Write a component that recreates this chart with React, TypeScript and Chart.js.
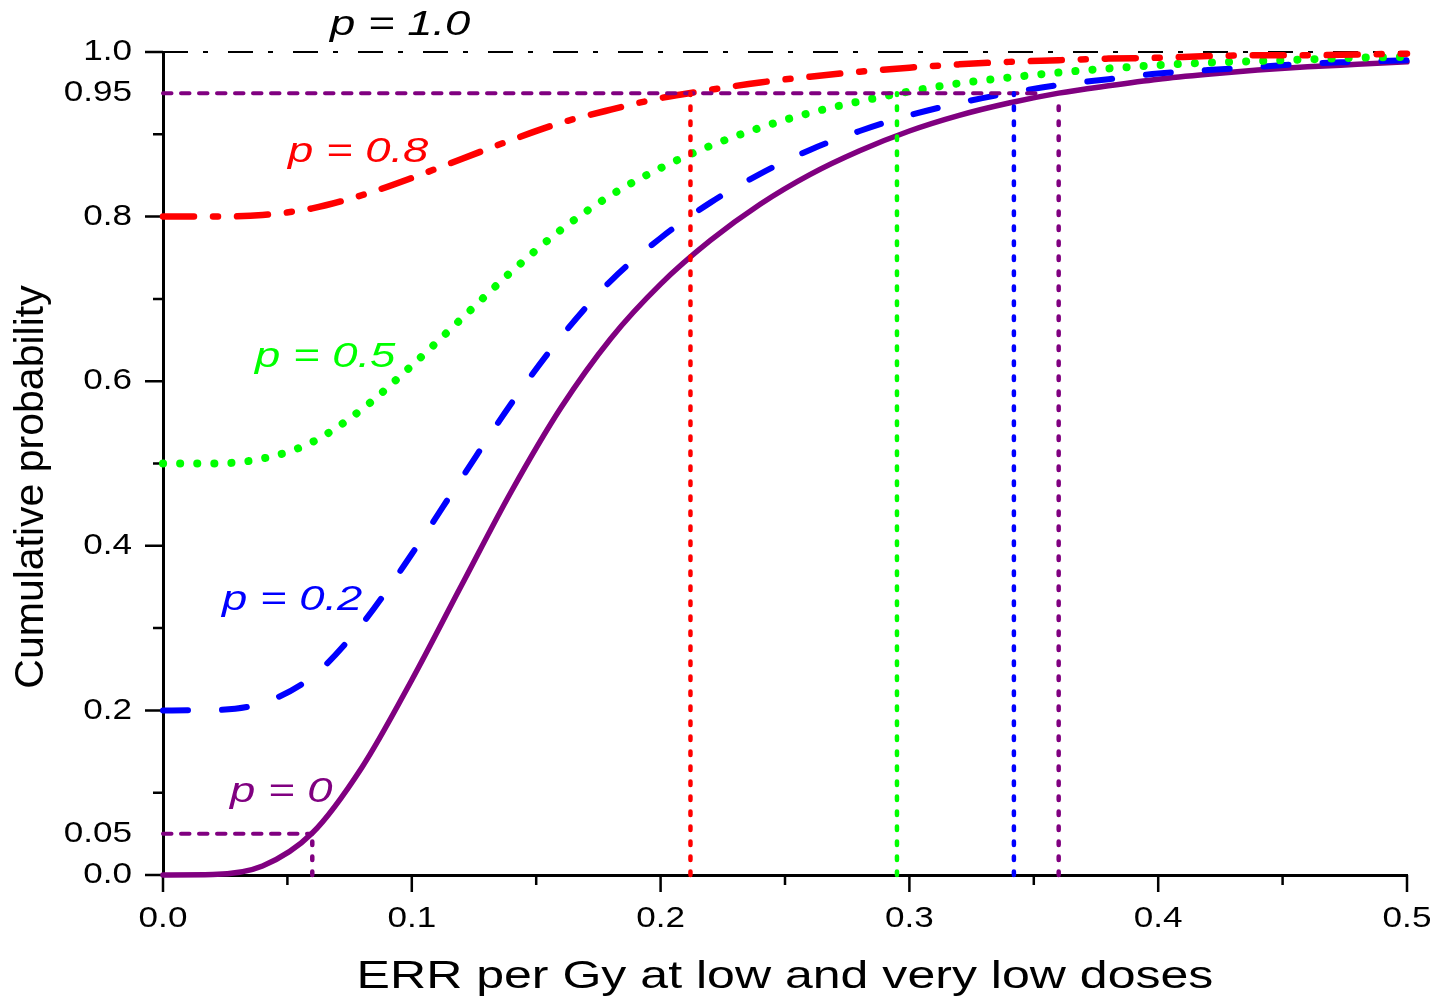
import React, { useEffect, useRef } from "react";
import { Chart, registerables } from "chart.js";

Chart.register(...registerables);

// ---- data ----
const xGrid = [0, 0.02, 0.04, 0.06, 0.08, 0.1, 0.12, 0.14, 0.16, 0.18, 0.2, 0.22, 0.24, 0.26, 0.28, 0.3, 0.32, 0.34, 0.36, 0.38, 0.4, 0.42, 0.44, 0.46, 0.48, 0.5];
const curveP0 = [0, 0.0005, 0.011, 0.051, 0.131, 0.237, 0.352, 0.466, 0.568, 0.652, 0.718, 0.771, 0.815, 0.851, 0.88, 0.904, 0.923, 0.938, 0.95, 0.959, 0.967, 0.973, 0.978, 0.982, 0.985, 0.988];
const curveP02 = [0.2, 0.2004, 0.209, 0.241, 0.305, 0.39, 0.482, 0.573, 0.654, 0.722, 0.774, 0.817, 0.852, 0.881, 0.904, 0.923, 0.938, 0.95, 0.96, 0.967, 0.974, 0.978, 0.982, 0.986, 0.988, 0.99];
const curveP05 = [0.5, 0.5, 0.506, 0.526, 0.566, 0.619, 0.676, 0.733, 0.784, 0.826, 0.859, 0.886, 0.908, 0.926, 0.94, 0.952, 0.962, 0.969, 0.975, 0.98, 0.984, 0.987, 0.989, 0.991, 0.993, 0.994];
const curveP08 = [0.8, 0.8, 0.802, 0.81, 0.826, 0.847, 0.87, 0.893, 0.914, 0.93, 0.944, 0.954, 0.963, 0.97, 0.976, 0.981, 0.985, 0.988, 0.99, 0.992, 0.993, 0.995, 0.996, 0.996, 0.997, 0.998];
const lineP10X = [0, 0.5];
const lineP10Y = [1.0, 1.0];

// 95% crossing points (red, green, blue, purple)
const crossX = [0.212, 0.295, 0.342, 0.36];
const crossTop = [0.95, 0.95, 0.95, 0.94];
const level95 = 0.95;
const level95End = 0.352;
const level05 = 0.05;
const level05X = 0.06;

const xMajorTicks = [0, 0.1, 0.2, 0.3, 0.4, 0.5];
const xMinorTicks = [0.05, 0.15, 0.25, 0.35, 0.45];
const xTickLabels = ["0.0", "0.1", "0.2", "0.3", "0.4", "0.5"];
const yMajorTicks = [0, 0.2, 0.4, 0.6, 0.8, 1.0];
const yMinorTicks = [0.1, 0.3, 0.5, 0.7, 0.9];
const yLabelValues = [0, 0.05, 0.2, 0.4, 0.6, 0.8, 0.95, 1.0];
const yTickLabels = ["0.0", "0.05", "0.2", "0.4", "0.6", "0.8", "0.95", "1.0"];

const annotations = [
  { text: "p = 1.0", color: "#000000", x: 330, y: 35 },
  { text: "p = 0.8", color: "#ff0000", x: 288, y: 162 },
  { text: "p = 0.5", color: "#00ff00", x: 255, y: 367 },
  { text: "p = 0.2", color: "#0000ff", x: 222, y: 610 },
  { text: "p = 0", color: "#800080", x: 230, y: 802 },
];

const FONT = '"Liberation Sans", Arial, sans-serif';

function drawText(ctx: CanvasRenderingContext2D, text: string, x: number, y: number, font: string, sx: number, align: CanvasTextAlign, baseline: CanvasTextBaseline, color: string) {
  ctx.save();
  ctx.translate(x, y);
  ctx.scale(sx, 1);
  ctx.font = font;
  ctx.textAlign = align;
  ctx.textBaseline = baseline;
  ctx.fillStyle = color;
  ctx.fillText(text, 0, 0);
  ctx.restore();
}

const axisPlugin = {
  id: "axisDecor",
  beforeDatasetsDraw(chart: any) {
    const ctx = chart.ctx as CanvasRenderingContext2D;
    const xs = chart.scales.x;
    const ys = chart.scales.y;
    const left = chart.chartArea.left;
    const bottom = chart.chartArea.bottom;
    ctx.save();
    ctx.strokeStyle = "#000";
    ctx.lineWidth = 2.5;
    ctx.lineCap = "butt";
    ctx.beginPath();
    yMajorTicks.forEach((v) => {
      const py = ys.getPixelForValue(v);
      ctx.moveTo(left - 18, py);
      ctx.lineTo(left, py);
    });
    yMinorTicks.forEach((v) => {
      const py = ys.getPixelForValue(v);
      ctx.moveTo(left - 10, py);
      ctx.lineTo(left, py);
    });
    xMajorTicks.forEach((v) => {
      const px = xs.getPixelForValue(v);
      ctx.moveTo(px, bottom);
      ctx.lineTo(px, bottom + 17);
    });
    xMinorTicks.forEach((v) => {
      const px = xs.getPixelForValue(v);
      ctx.moveTo(px, bottom);
      ctx.lineTo(px, bottom + 10);
    });
    ctx.stroke();
    ctx.restore();
  },
  afterDraw(chart: any) {
    const ctx = chart.ctx as CanvasRenderingContext2D;
    const xs = chart.scales.x;
    const ys = chart.scales.y;
    const tickFont = `30px ${FONT}`;
    xMajorTicks.forEach((v, i) => {
      drawText(ctx, xTickLabels[i], xs.getPixelForValue(v), 927, tickFont, 1.17, "center", "alphabetic", "#000");
    });
    yLabelValues.forEach((v, i) => {
      drawText(ctx, yTickLabels[i], 132, ys.getPixelForValue(v), tickFont, 1.17, "right", "middle", "#000");
    });
    // x title
    drawText(ctx, "ERR per Gy at low and very low doses", (chart.chartArea.left + chart.chartArea.right) / 2, 988, `38.5px ${FONT}`, 1.3, "center", "alphabetic", "#000");
    // y title
    ctx.save();
    ctx.translate(43, 487);
    ctx.rotate(-Math.PI / 2);
    ctx.font = `41px ${FONT}`;
    ctx.textAlign = "center";
    ctx.textBaseline = "alphabetic";
    ctx.fillStyle = "#000";
    ctx.fillText("Cumulative probability", 0, 0);
    ctx.restore();
    annotations.forEach((a) => {
      drawText(ctx, a.text, a.x, a.y, `italic 35px ${FONT}`, 1.3, "left", "alphabetic", a.color);
    });
  },
};

function pts(xv: number[], yv: number[]) {
  return xv.map((x, i) => ({ x, y: yv[i] }));
}

export default function App() {
  const ref = useRef<HTMLCanvasElement | null>(null);
  useEffect(() => {
    document.body.style.margin = "0";
    if (!ref.current) return;
    const refLine = (color: string, x0: number, y0: number, x1: number, y1: number, dash: number[]) => ({
      data: [{ x: x0, y: y0 }, { x: x1, y: y1 }],
      borderColor: color,
      borderWidth: 4.5,
      borderDash: dash,
      borderCapStyle: "round",
      pointRadius: 0,
      fill: false,
      clip: false,
    });
    const curve = (color: string, xv: number[], yv: number[], width: number, dash: number[], cap: string) => ({
      data: pts(xv, yv),
      borderColor: color,
      borderWidth: width,
      borderDash: dash,
      borderCapStyle: cap,
      borderJoinStyle: "round",
      cubicInterpolationMode: "monotone",
      pointRadius: 0,
      fill: false,
      clip: false,
    });
    const vDash = [3.5, 11.5];
    const datasets: any[] = [
      refLine("#ff0000", crossX[0], 0, crossX[0], crossTop[0], vDash),
      refLine("#00ff00", crossX[1], 0, crossX[1], crossTop[1], vDash),
      refLine("#0000ff", crossX[2], 0, crossX[2], crossTop[2], vDash),
      refLine("#800080", crossX[3], 0, crossX[3], crossTop[3], vDash),
      { ...refLine("#800080", 0, level95, level95End, level95, [8.5, 9.5]), borderWidth: 4 },
      { ...refLine("#800080", 0, level05, level05X, level05, [8.5, 9.5]), borderWidth: 4 },
      refLine("#800080", level05X, 0, level05X, level05, vDash),
      curve("#ff0000", xGrid, curveP08, 6.5, [31, 19, 5, 19], "round"),
      curve("#00ff00", xGrid, curveP05, 8, [0.1, 17], "round"),
      curve("#0000ff", xGrid, curveP02, 6, [25, 34], "round"),
      curve("#800080", xGrid, curveP0, 5.5, [], "round"),
      curve("#000000", lineP10X, lineP10Y, 2, [25, 15, 5, 20], "butt"),
    ];
    const chart = new Chart(ref.current, {
      type: "line",
      data: { datasets },
      plugins: [axisPlugin],
      options: {
        animation: false,
        responsive: false,
        devicePixelRatio: 1,
        layout: { padding: { top: 52, right: 32, left: 0, bottom: 0 } },
        plugins: { legend: { display: false }, tooltip: { enabled: false }, title: { display: false } },
        scales: {
          x: {
            type: "linear",
            min: 0,
            max: 0.5,
            grid: { display: false },
            border: { display: true, color: "#000", width: 3 },
            ticks: { display: false },
            afterFit: (s: any) => { s.height = 122; },
          },
          y: {
            type: "linear",
            min: 0,
            max: 1,
            grid: { display: false },
            border: { display: true, color: "#000", width: 3 },
            ticks: { display: false },
            afterFit: (s: any) => { s.width = 163; },
          },
        },
      } as any,
    });
    return () => chart.destroy();
  }, []);
  return <canvas ref={ref} width={1439} height={997} style={{ display: "block" }} />;
}
